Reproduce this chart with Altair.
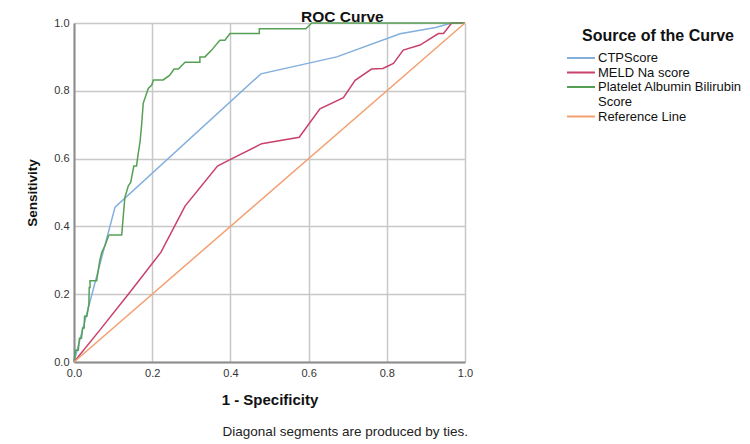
import altair as alt
import pandas as pd

series_names = ["CTPScore", "MELD Na score", "Platelet Albumin Bilirubin Score", "Reference Line"]
series_colors = ["#82afdc", "#c8416a", "#55a055", "#f2a070"]

ctp_x = [0, 0.105, 0.478, 0.672, 0.834, 0.925, 0.966, 1.0]
ctp_y = [0, 0.457, 0.850, 0.900, 0.968, 0.987, 1.0, 1.0]

meld_x = [0, 0.066, 0.143, 0.2225, 0.284, 0.367, 0.399, 0.48, 0.576, 0.629, 0.689, 0.719, 0.761,
          0.79, 0.817, 0.842, 0.885, 0.898, 0.932, 0.945, 0.966, 1.0]
meld_y = [0, 0.094, 0.206, 0.324, 0.46, 0.578, 0.597, 0.644, 0.663, 0.747, 0.78, 0.831, 0.864,
          0.866, 0.881, 0.92, 0.935, 0.944, 0.969, 0.969, 1.0, 1.0]

palb_x = [0, 0.004, 0.011, 0.014, 0.019, 0.022, 0.026, 0.027, 0.033, 0.038, 0.039, 0.041, 0.041,
          0.058, 0.062, 0.066, 0.071, 0.079, 0.083, 0.088, 0.09, 0.122, 0.13, 0.139, 0.145, 0.153,
          0.16, 0.162, 0.169, 0.173, 0.177, 0.19, 0.199, 0.203, 0.228, 0.245, 0.256, 0.267, 0.284,
          0.322, 0.322, 0.335, 0.352, 0.373, 0.386, 0.399, 0.474, 0.474, 0.593, 0.608, 1.0]
palb_y = [0, 0.035, 0.035, 0.07, 0.07, 0.10, 0.10, 0.135, 0.135, 0.17, 0.22, 0.22, 0.24,
          0.24, 0.27, 0.30, 0.323, 0.343, 0.355, 0.372, 0.375, 0.375, 0.485, 0.52, 0.53, 0.578,
          0.578, 0.597, 0.651, 0.70, 0.763, 0.807, 0.817, 0.832, 0.832, 0.846, 0.864, 0.864, 0.884,
          0.884, 0.90, 0.90, 0.92, 0.949, 0.949, 0.969, 0.969, 0.983, 0.983, 1.0, 1.0]

ref_x = [0, 1.0]
ref_y = [0, 1.0]

axis_ticks = [0, 0.2, 0.4, 0.6, 0.8, 1.0]
footnote = "Diagonal segments are produced by ties."

rows = []
for name, xs, ys in zip(series_names, [ctp_x, meld_x, palb_x, ref_x], [ctp_y, meld_y, palb_y, ref_y]):
    for i, (a, b) in enumerate(zip(xs, ys)):
        rows.append({"series": name, "fpr": a, "tpr": b, "idx": i})
df = pd.DataFrame(rows)

FONT = "Liberation Sans"

lines = alt.Chart(df).mark_line(strokeWidth=1.5).encode(
    x=alt.X("fpr:Q", scale=alt.Scale(domain=[0, 1], nice=False, zero=False),
            axis=alt.Axis(values=axis_ticks, format=".1f", title="1 - Specificity",
                          titlePadding=14, titleFontSize=15, labelFlush=False)),
    y=alt.Y("tpr:Q", scale=alt.Scale(domain=[0, 1], nice=False, zero=False),
            axis=alt.Axis(values=axis_ticks, format=".1f", title="Sensitivity",
                          titlePadding=14, titleFontSize=13.5, labelFlush=False)),
    color=alt.Color("series:N", scale=alt.Scale(domain=series_names, range=series_colors),
                    legend=alt.Legend(
                        title="Source of the Curve", orient="none", legendX=500, legendY=5,
                        titleFontSize=16, titleFontWeight="bold", titleColor="#111",
                        titleAnchor="middle", titlePadding=7,
                        labelFontSize=13, labelColor="#111", labelLimit=400,
                        labelExpr="datum.label == 'Platelet Albumin Bilirubin Score' ? ['Platelet Albumin Bilirubin', 'Score'] : datum.label",
                        symbolType="M-2.33,0H2.33", symbolSize=144, symbolStrokeWidth=2,
                        rowPadding=0.5, labelOffset=10)),
    order="idx:Q",
)

note = alt.Chart(pd.DataFrame({"t": [footnote]})).mark_text(
    align="right", baseline="middle", fontSize=13.5, font=FONT, color="#222"
).encode(text="t:N", x=alt.value(394), y=alt.value(409))

chart = alt.layer(lines, note).properties(
    width=391, height=339,
    title=alt.Title("ROC Curve", anchor="start", frame="group", dx=227, fontSize=15.5,
                    fontWeight="bold", font=FONT, color="#111", offset=-8),
    padding={"left": 66, "top": 15, "right": 277, "bottom": 80},
    autosize=alt.AutoSizeParams(type="none"),
).configure(font=FONT, style={"guide-label": {"lineHeight": 14.5}}).configure_view(
    stroke=None
).configure_axis(
    labelFontSize=11, labelColor="#333", labelFont=FONT,
    titleFontWeight="bold", titleColor="#111", titleFont=FONT,
    domainColor="#8c8c8c", domainWidth=2, gridColor="#c8c8c8", gridWidth=1.5,
    ticks=False, labelPadding=5,
)

chart.save("out.html", embed_options={"renderer": "svg", "actions": False})
